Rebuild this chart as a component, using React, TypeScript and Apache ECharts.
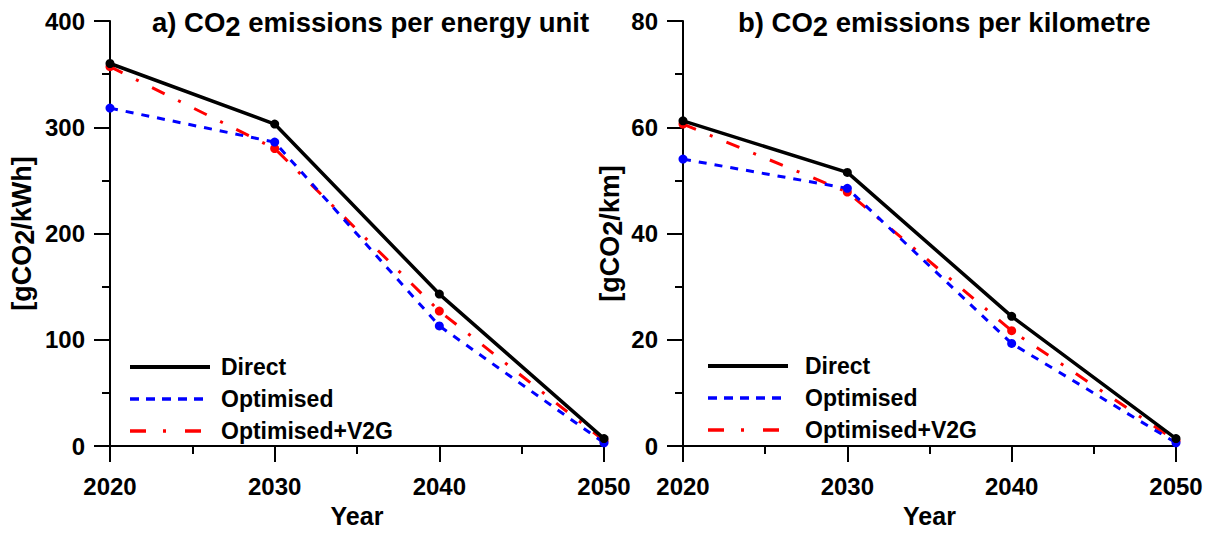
import React, { useEffect, useRef } from "react";
import * as echarts from "echarts";

const years = [2020, 2030, 2040, 2050];
const seriesNames = ["Direct", "Optimised", "Optimised+V2G"];
const energyDirect = [360, 303, 143, 7];
const energyOptimised = [318, 286, 113, 3];
const energyV2G = [357, 280, 127, 5];
const kmDirect = [61.2, 51.5, 24.4, 1.4];
const kmOptimised = [54, 48.5, 19.3, 0.6];
const kmV2G = [60.6, 47.8, 21.7, 1.0];
const energyTicks = [0, 100, 200, 300, 400];
const kmTicks = [0, 20, 40, 60, 80];
const yearTicks = [2020, 2030, 2040, 2050];
const titles = ["a) CO{s|2} emissions per energy unit", "b) CO{s|2} emissions per kilometre"];
const yNames = ["[gCO{s|2}/kWh]", "[gCO{s|2}/km]"];
const xName = "Year";

const FONT = '"Liberation Sans", Arial, sans-serif';
const colors = ["#000000", "#0000ff", "#ff0000"];
const dashes: any[] = ["solid", [8, 8], [14, 15, 3, 15]];
const legendDashes: any[] = [null, [9, 7], [16, 17, 3, 19]];
const widths = [3.5, 3, 3];
const symSizes = [9, 9, 9];

const titleRich = { s: { fontSize: 27.5, fontWeight: "bold", fontFamily: FONT, color: "#000", padding: [8, 0, 0, 0] } };
const nameRich = { s: { fontSize: 27, fontWeight: "bold", fontFamily: FONT, color: "#000", padding: [6, 0, 0, 0] } };

export default function App() {
  const ref = useRef<HTMLDivElement>(null);
  useEffect(() => {
    if (!ref.current) return;
    const chart = echarts.init(ref.current, undefined, { renderer: "svg" });
    const grids = [
      { left: 110, top: 21, width: 494, height: 432 },
      { left: 683, top: 21, width: 493, height: 432 },
    ];
    const xAxes = [0, 1].map((i) => ({
      type: "value",
      gridIndex: i,
      min: yearTicks[0],
      max: yearTicks[yearTicks.length - 1],
      interval: yearTicks[1] - yearTicks[0],
      name: xName,
      nameLocation: "middle",
      nameGap: 57,
      nameTextStyle: { fontSize: 25, fontWeight: "bold", fontFamily: FONT, color: "#000" },
      axisLine: { show: true, lineStyle: { color: "#000", width: 2 } },
      axisTick: { show: true, length: 16, lineStyle: { color: "#000", width: 2 } },
      minorTick: { show: true, splitNumber: 2, length: 8, lineStyle: { color: "#000", width: 2 } },
      splitLine: { show: false },
      axisLabel: {
        fontSize: 24, fontWeight: "bold", fontFamily: FONT, color: "#000", margin: 28,
        formatter: (v: number) => String(v),
      },
    }));
    const yTickSets = [energyTicks, kmTicks];
    const yGaps = [72, 57];
    const yAxes = [0, 1].map((i) => ({
      type: "value",
      gridIndex: i,
      min: yTickSets[i][0],
      max: yTickSets[i][yTickSets[i].length - 1],
      interval: yTickSets[i][1] - yTickSets[i][0],
      name: yNames[i],
      nameLocation: "middle",
      nameGap: yGaps[i],
      nameTextStyle: { fontSize: 27, fontWeight: "bold", fontFamily: FONT, color: "#000", rich: nameRich },
      axisLine: { show: true, lineStyle: { color: "#000", width: 2 } },
      axisTick: { show: true, length: 16, lineStyle: { color: "#000", width: 2 } },
      minorTick: { show: true, splitNumber: 2, length: 8, lineStyle: { color: "#000", width: 2 } },
      splitLine: { show: false },
      axisLabel: {
        fontSize: 24, fontWeight: "bold", fontFamily: FONT, color: "#000", margin: 25,
        formatter: (v: number) => String(v),
      },
    }));
    const dataSets = [
      [energyDirect, energyOptimised, energyV2G],
      [kmDirect, kmOptimised, kmV2G],
    ];
    const series: any[] = [];
    [0, 1].forEach((g) => {
      [2, 1, 0].forEach((k) => {
        series.push({
          type: "line",
          name: seriesNames[k],
          xAxisIndex: g,
          yAxisIndex: g,
          data: years.map((y, j) => [y, dataSets[g][k][j]]),
          symbol: "circle",
          symbolSize: symSizes[k],
          showSymbol: true,
          itemStyle: { color: colors[k], borderWidth: 0 },
          lineStyle: { color: colors[k], width: widths[k], type: dashes[k], cap: "butt" },
          z: 2 + (2 - k),
        });
      });
    });
    const legendPos = [
      { x1: 130, x2: 210, tx: 221, ys: [367, 399, 431] },
      { x1: 708, x2: 788, tx: 805, ys: [366, 398, 430] },
    ];
    const graphic: any[] = [];
    legendPos.forEach((p) => {
      seriesNames.forEach((n, k) => {
        graphic.push({
          type: "line",
          shape: { x1: p.x1, y1: p.ys[k], x2: p.x2, y2: p.ys[k] },
          style: { stroke: colors[k], lineWidth: k === 0 ? 4 : 3.5, lineDash: legendDashes[k], lineCap: "butt" },
        });
        graphic.push({
          type: "text",
          x: p.tx,
          y: p.ys[k],
          style: { text: n, fill: "#000", fontSize: 23, fontWeight: "bold", fontFamily: FONT, verticalAlign: "middle", align: "left" },
        });
      });
    });
    chart.setOption({
      animation: false,
      backgroundColor: "#fff",
      title: [
        { text: titles[0], left: 152, top: 4, padding: 0, textStyle: { fontSize: 27.5, fontWeight: "bold", fontFamily: FONT, color: "#000", rich: titleRich } },
        { text: titles[1], left: 738, top: 4, padding: 0, textStyle: { fontSize: 27.5, fontWeight: "bold", fontFamily: FONT, color: "#000", rich: titleRich } },
      ],
      grid: grids,
      xAxis: xAxes,
      yAxis: yAxes,
      series,
      graphic,
    } as any);
    return () => chart.dispose();
  }, []);
  return <div ref={ref} style={{ position: "absolute", left: 0, top: 0, width: 1209, height: 533 }} />;
}
